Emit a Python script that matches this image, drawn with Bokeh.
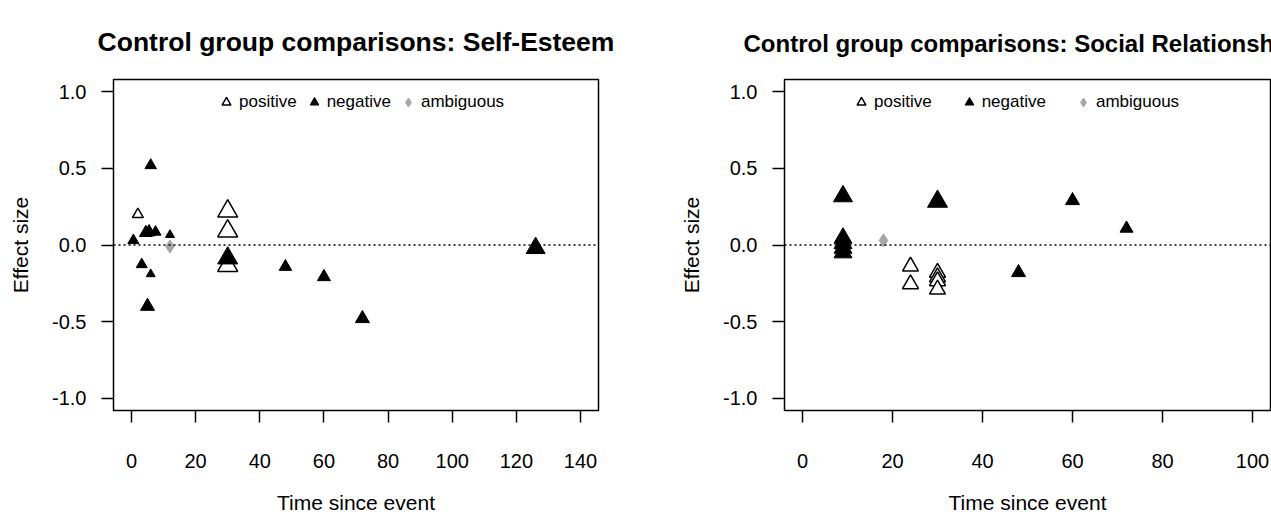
from bokeh.plotting import figure
from bokeh.layouts import row
from bokeh.models import (ColumnDataSource, Range1d, FixedTicker, PrintfTickFormatter,
                          Span, Legend, LegendItem)
from bokeh.embed import file_html
from bokeh.resources import INLINE

FONT = "Liberation Sans"

# ---- Self-Esteem: control group comparisons ----
se_pos_time = [2, 30, 30, 30]
se_pos_effect = [0.20, 0.22, 0.09, -0.135]
se_pos_cex = [1.1, 2.0, 2.0, 2.0]

se_neg_time = [0.6, 4.5, 5.5, 7.5, 12, 6, 3.2, 6, 5, 30, 48, 60, 72, 126]
se_neg_effect = [0.03, 0.08, 0.085, 0.085, 0.066, 0.52, -0.127, -0.19, -0.40,
                 -0.086, -0.142, -0.208, -0.48, -0.02]
se_neg_cex = [1.1, 1.3, 1.3, 1.1, 0.9, 1.15, 1.1, 0.9, 1.4, 2.0, 1.25, 1.3, 1.4, 1.9]

se_amb_time = [12]
se_amb_effect = [-0.01]

# ---- Social Relationships: control group comparisons ----
sr_pos_time = [24, 24, 30, 30, 30, 30]
sr_pos_effect = [-0.14, -0.255, -0.18, -0.21, -0.235, -0.29]
sr_pos_cex = [1.6, 1.6, 1.6, 1.6, 1.6, 1.6]

sr_neg_time = [9, 9, 9, 9, 9, 30, 48, 60, 72]
sr_neg_effect = [0.318, 0.045, 0.01, -0.02, -0.05, 0.284, -0.18, 0.29, 0.108]
sr_neg_cex = [1.9, 1.8, 1.8, 1.8, 1.8, 2.0, 1.4, 1.4, 1.3]

sr_amb_time = [18]
sr_amb_effect = [0.03]

y_ticks = [-1.0, -0.5, 0.0, 0.5, 1.0]
se_x_ticks = [0, 20, 40, 60, 80, 100, 120, 140]
sr_x_ticks = [0, 20, 40, 60, 80, 100]

CEX_PX = 10  # marker width in pixels per unit of cex


def make_panel(title, title_size, x_range, x_ticks, pos, neg, amb, frame,
               legend_spacing, legend_x, title_offset=None):
    left, right, width = frame
    p = figure(width=width, height=516, output_backend="svg", toolbar_location=None,
               x_range=x_range, y_range=Range1d(-1.08, 1.08),
               min_border_left=left, min_border_right=right,
               min_border_top=79, min_border_bottom=105,
               background_fill_color="white", border_fill_color="white")
    p.grid.visible = False
    p.outline_line_color = "black"
    p.outline_line_width = 1.5

    p.title.text = title
    p.title.text_font = FONT
    p.title.text_font_size = title_size
    p.title.text_font_style = "bold"
    p.title.text_color = "black"
    p.title.standoff = 46
    if title_offset is None:
        p.title.align = "center"
    else:
        p.title.align = "left"
        p.title.offset = title_offset

    p.xaxis.ticker = FixedTicker(ticks=x_ticks)
    p.yaxis.ticker = FixedTicker(ticks=y_ticks)
    p.yaxis.formatter = PrintfTickFormatter(format="%.1f")
    p.xaxis.axis_label = "Time since event"
    p.yaxis.axis_label = "Effect size"
    for ax in (p.xaxis, p.yaxis):
        ax.axis_line_color = None
        ax.major_tick_line_color = "black"
        ax.major_tick_line_width = 1.5
        ax.major_tick_out = 12
        ax.major_tick_in = 0
        ax.minor_tick_line_color = None
        ax.major_label_text_font = FONT
        ax.major_label_text_font_size = "20px"
        ax.major_label_text_color = "black"
        ax.axis_label_text_font = FONT
        ax.axis_label_text_font_size = "21px"
        ax.axis_label_text_font_style = "normal"
        ax.axis_label_text_color = "black"
    p.xaxis.major_label_standoff = 31
    p.xaxis.axis_label_standoff = 20
    p.yaxis.major_label_standoff = 15
    p.yaxis.axis_label_standoff = 17

    # reference line at zero effect
    p.add_layout(Span(location=0, dimension="width", line_color="black",
                      line_width=1.5, line_dash="2 3"))

    pos_src = ColumnDataSource(dict(x=pos[0], y=pos[1],
                                    s=[c * CEX_PX for c in pos[2]]))
    neg_src = ColumnDataSource(dict(x=neg[0], y=neg[1],
                                    s=[c * CEX_PX for c in neg[2]]))
    amb_src = ColumnDataSource(dict(x=amb[0], y=amb[1]))

    r_pos = p.scatter("x", "y", source=pos_src, marker="triangle", size="s",
                      fill_color="white", line_color="black", line_width=1.5)
    r_neg = p.scatter("x", "y", source=neg_src, marker="triangle", size="s",
                      fill_color="black", line_color="black", line_width=1)
    r_amb = p.scatter("x", "y", source=amb_src, marker="diamond", size=13,
                      fill_color="#a6a6a6", line_color="#a6a6a6")

    legend = Legend(items=[LegendItem(label="positive", renderers=[r_pos]),
                           LegendItem(label="negative", renderers=[r_neg]),
                           LegendItem(label="ambiguous", renderers=[r_amb])],
                    orientation="horizontal", location=(legend_x, 297),
                    border_line_color=None, background_fill_alpha=0,
                    padding=0, margin=0, spacing=legend_spacing,
                    glyph_width=22, glyph_height=22, label_standoff=2,
                    label_text_font=FONT, label_text_font_size="17px",
                    label_text_color="black")
    p.add_layout(legend)
    return p


p1 = make_panel("Control group comparisons: Self-Esteem", "26.5px",
                Range1d(-5.6, 145.6), se_x_ticks,
                (se_pos_time, se_pos_effect, se_pos_cex),
                (se_neg_time, se_neg_effect, se_neg_cex),
                (se_amb_time, se_amb_effect),
                frame=(113, 42, 640), legend_spacing=6, legend_x=102)

p2 = make_panel("Control group comparisons: Social Relationships", "24px",
                Range1d(-4, 104), sr_x_ticks,
                (sr_pos_time, sr_pos_effect, sr_pos_cex),
                (sr_neg_time, sr_neg_effect, sr_neg_cex),
                (sr_amb_time, sr_amb_effect),
                frame=(144, 1, 631), legend_spacing=26, legend_x=66,
                title_offset=-41)

layout = row(p1, p2)
open("out.html", "w").write(file_html(layout, INLINE))
